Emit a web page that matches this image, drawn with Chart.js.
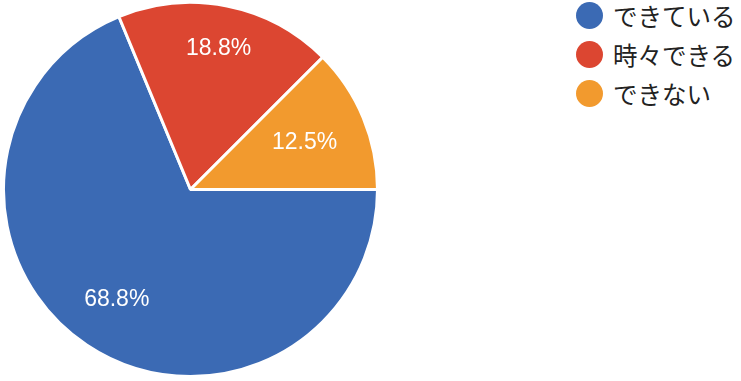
<!DOCTYPE html>
<html>
<head>
<meta charset="utf-8">
<script src="https://cdn.jsdelivr.net/npm/chart.js@4.4.0/dist/chart.umd.min.js"></script>
<style>
    body { margin: 0; background: #fff; }
    #wrap { position: relative; width: 741px; height: 381px; overflow: hidden; }
    #pie { position: absolute; left: 2px; top: 1px; width: 377px; height: 377px; }
    #legend { position: absolute; left: 576px; top: -4px; margin: 0; padding: 0; list-style: none;
        font-family: "Liberation Sans", "Noto Sans CJK JP", sans-serif; font-size: 24.5px; color: #222; }
    #legend li { height: 39px; display: flex; align-items: center; }
    #legend span.dot { width: 27px; height: 27px; border-radius: 50%; margin-right: 10px; display: inline-block; }
</style>
</head>
<body>
<div id="wrap">
    <div id="pie"><canvas id="chart"></canvas></div>
    <ul id="legend"></ul>
</div>
<script>
const labels = ['できている', '時々できる', 'できない'];
const counts = [11, 3, 2];
const colors = ['#3b6ab4', '#dc4631', '#f29a2e'];

// pourcentages dans les parts
const sliceLabels = {
    id: 'sliceLabels',
    afterDatasetsDraw(chart, args, opts) {
        const ctx = chart.ctx;
        const meta = chart.getDatasetMeta(0);
        const total = counts.reduce((a, b) => a + b, 0);
        ctx.save();
        ctx.fillStyle = '#fff';
        ctx.font = '23px "Liberation Sans", Arial, sans-serif';
        ctx.textAlign = 'center';
        ctx.textBaseline = 'middle';
        meta.data.forEach((arc, i) => {
            const mid = (arc.startAngle + arc.endAngle) / 2;
            const r = arc.outerRadius * opts.radius[i];
            const pct = (counts[i] / total * 100).toFixed(1) + '%';
            ctx.fillText(pct, arc.x + Math.cos(mid) * r, arc.y + Math.sin(mid) * r);
        });
        ctx.restore();
    }
};

new Chart(document.getElementById('chart'), {
    type: 'pie',
    data: {
        labels: labels,
        datasets: [{
            data: counts,
            backgroundColor: colors,
            borderColor: '#fff',
            borderWidth: 3,
        }],
    },
    options: {
        responsive: true,
        maintainAspectRatio: false,
        animation: false,
        rotation: 90,
        layout: { padding: 0 },
        plugins: {
            legend: { display: false },
            tooltip: { enabled: false },
            sliceLabels: { radius: [0.71, 0.77, 0.66] },
        },
    },
    plugins: [sliceLabels],
});

const legend = document.getElementById('legend');
labels.forEach((l, i) => {
    const li = document.createElement('li');
    li.innerHTML = '<span class="dot" style="background:' + colors[i] + '"></span>' + l;
    legend.appendChild(li);
});
</script>
</body>
</html>
